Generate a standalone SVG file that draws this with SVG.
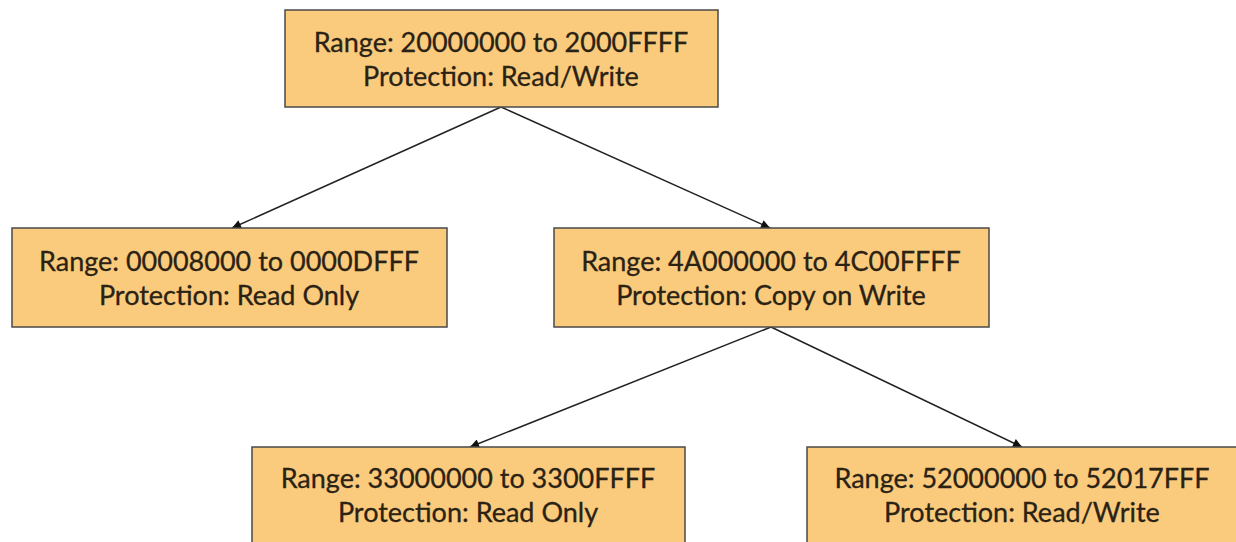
<svg xmlns="http://www.w3.org/2000/svg" width="1236" height="542" viewBox="0 0 1236 542">
<style>
.box{fill:#FACB7C;stroke:#4a4a4a;stroke-width:1.5}
.t{font-family:Lato,"Open Sans","Liberation Sans",sans-serif;font-size:27px;fill:#2a2214;stroke:#2a2214;stroke-width:0.3;text-anchor:middle}
.c{stroke:#222;stroke-width:1.5;fill:none;marker-end:url(#ah)}
</style>
<defs>
<marker id="ah" viewBox="0 0 10 10" refX="10" refY="5" markerWidth="10" markerHeight="9" markerUnits="userSpaceOnUse" orient="auto">
<path d="M0,0 L10,5 L0,10 z" fill="#111"/>
</marker>
</defs>
<rect width="1236" height="542" fill="#fff"/>
<g id="connectors">
<line class="c" x1="501" y1="107" x2="232" y2="228"/>
<line class="c" x1="501" y1="107" x2="770" y2="228"/>
<line class="c" x1="771" y1="327" x2="470" y2="447"/>
<line class="c" x1="771" y1="327" x2="1022" y2="447"/>
</g>
<g id="n1">
<rect class="box" x="285" y="10" width="433" height="97"/>
<text class="t" x="501" y="52">Range: 20000000 to 2000FFFF</text>
<text class="t" x="501" y="86">Protection: Read/Write</text>
</g>
<g id="n2">
<rect class="box" x="12" y="228" width="435" height="99"/>
<text class="t" x="229" y="271">Range: 00008000 to 0000DFFF</text>
<text class="t" x="229" y="305">Protection: Read Only</text>
</g>
<g id="n3">
<rect class="box" x="554" y="228" width="435" height="99"/>
<text class="t" x="771" y="271">Range: 4A000000 to 4C00FFFF</text>
<text class="t" x="771" y="305">Protection: Copy on Write</text>
</g>
<g id="n4">
<rect class="box" x="252" y="447" width="433" height="100"/>
<text class="t" x="468" y="488">Range: 33000000 to 3300FFFF</text>
<text class="t" x="468" y="522">Protection: Read Only</text>
</g>
<g id="n5">
<rect class="box" x="807" y="447" width="433" height="100"/>
<text class="t" x="1022" y="488">Range: 52000000 to 52017FFF</text>
<text class="t" x="1022" y="522">Protection: Read/Write</text>
</g>
</svg>
